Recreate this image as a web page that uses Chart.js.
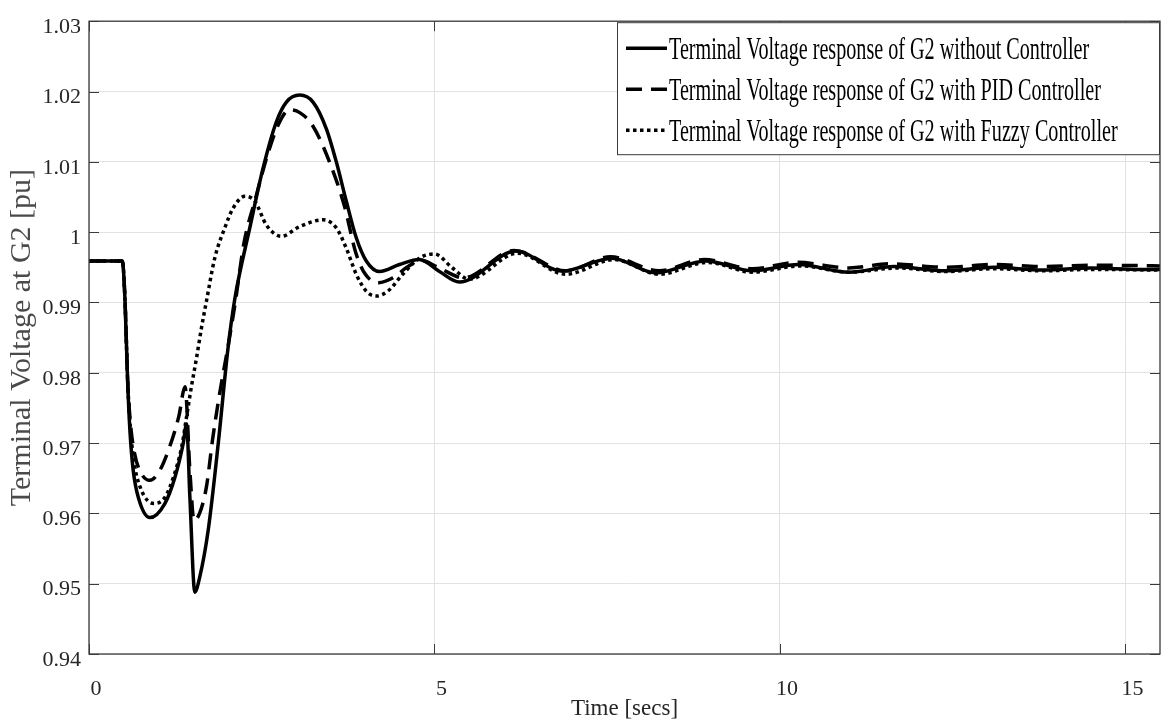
<!DOCTYPE html>
<html>
<head>
<meta charset="utf-8">
<title>Terminal Voltage at G2</title>
<script src="https://cdn.jsdelivr.net/npm/chart.js@4.4.1/dist/chart.umd.min.js"></script>
<style>
  html, body { margin: 0; padding: 0; background: #fff; }
  #wrap { width: 1162px; height: 725px; }
</style>
</head>
<body>
<div id="wrap"><canvas id="chart" width="1162" height="725"></canvas></div>
<script>
// ── Données ──────────────────────────────────────────────────────
const LABELS = [
  "Terminal Voltage response of G2 without Controller",
  "Terminal Voltage response of G2 with PID Controller",
  "Terminal Voltage response of G2 with Fuzzy Controller",
];

// sans régulateur
const SOLID_T = [0, 0.482, 0.52, 0.559, 0.592, 0.64, 0.713, 0.881, 1.098, 1.243, 1.363, 1.412,
  1.46, 1.532, 1.604, 1.725, 1.87, 2.013, 2.11, 2.327, 2.519, 2.712, 2.857, 3.049, 3.242,
  3.435, 3.579, 3.724, 3.868, 4.013, 4.205, 4.494, 4.783, 5.072, 5.36, 6.18, 6.85, 7.57,
  8.2, 8.93, 9.6, 10.27, 11.0, 11.65, 12.4, 13.1, 13.8, 14.5, 15.2, 15.5];
const SOLID_V = [0.9959, 0.9959, 0.9906, 0.9788, 0.9718, 0.9661, 0.9623, 0.9594, 0.9614, 0.9651, 0.9699, 0.9727,
  0.9623, 0.9488, 0.9510, 0.9576, 0.9699, 0.9836, 0.9905, 1.0006, 1.0091, 1.0157, 1.0185, 1.0195, 1.0185,
  1.0147, 1.0100, 1.0044, 0.9992, 0.9959, 0.9944, 0.9954, 0.9961, 0.9944, 0.9929, 0.9973, 0.99445, 0.9963,
  0.9942, 0.9959, 0.9945, 0.9954, 0.9943, 0.9951, 0.9945, 0.9950, 0.9946, 0.9949, 0.9947, 0.9947];

// PID
const PID_T = [0, 0.482, 0.52, 0.559, 0.6, 0.66, 0.75, 0.88, 1.0, 1.15, 1.3, 1.39, 1.46, 1.52,
  1.6, 1.7, 1.79, 1.89, 2.02, 2.12, 2.24, 2.41, 2.6, 2.75, 2.9, 3.05, 3.24, 3.5, 3.7, 3.86,
  4.0, 4.19, 4.4, 4.6, 4.8, 5.05, 5.42, 6.15, 6.9, 7.55, 8.25, 8.9, 9.6, 10.25, 11.0, 11.6,
  12.4, 13.1, 13.8, 14.5, 15.5];
const PID_V = [0.9959, 0.9959, 0.9906, 0.9790, 0.9728, 0.9685, 0.9658, 0.9647, 0.9657, 0.9690, 0.9738, 0.9780, 0.9661, 0.9590,
  0.9600, 0.9638, 0.9706, 0.9770, 0.9842, 0.9902, 0.9983, 1.0048, 1.0115, 1.0155, 1.0174, 1.0170, 1.0151, 1.0095, 1.0036, 0.9971,
  0.9940, 0.9928, 0.9935, 0.9950, 0.9960, 0.9950, 0.9935, 0.9974, 0.9945, 0.9965, 0.9945, 0.9961, 0.9948, 0.9957, 0.9949, 0.9955,
  0.9950, 0.9954, 0.9951, 0.9953, 0.9952];

// Flou
const FUZZY_T = [0, 0.482, 0.52, 0.559, 0.6, 0.66, 0.75, 0.85, 0.94, 1.1, 1.22, 1.34, 1.41, 1.48,
  1.556, 1.628, 1.7, 1.82, 1.965, 2.085, 2.254, 2.4, 2.568, 2.784, 3.05, 3.386, 3.58, 3.724,
  3.868, 4.013, 4.157, 4.325, 4.54, 4.78, 5.0, 5.26, 5.5, 6.2, 6.9, 7.6, 8.25, 8.95, 9.6,
  10.3, 11.0, 11.7, 12.4, 13.1, 13.8, 14.5, 15.5];
const FUZZY_V = [0.9959, 0.9959, 0.9906, 0.9790, 0.9720, 0.9668, 0.9635, 0.9618, 0.9614, 0.9623, 0.9651, 0.9694, 0.9736, 0.9779,
  0.9821, 0.9864, 0.9902, 0.9963, 1.0006, 1.0034, 1.0051, 1.0044, 1.0010, 0.9994, 1.0008, 1.00175, 1.0006, 0.9977,
  0.9940, 0.9916, 0.9909, 0.9916, 0.9940, 0.9963, 0.9969, 0.9949, 0.9933, 0.9970, 0.9940, 0.9961, 0.9940, 0.9957, 0.9943,
  0.9952, 0.9943, 0.9949, 0.9944, 0.9948, 0.9945, 0.9947, 0.9946];

const X_TICKS = [0, 5, 10, 15];
const Y_TICKS = [0.94, 0.95, 0.96, 0.97, 0.98, 0.99, 1.00, 1.01, 1.02, 1.03];
const X_MAX = 15.5;

// ── Style ────────────────────────────────────────────────────────
const FONT = "'Liberation Serif', 'Times New Roman', serif";
const AXIS_COLOR = "#3a3a3a";
const GRID_COLOR = "#e2e2e2";
const TICK_LEN = 10;

function pts(ts, vs) {
  return ts.map((t, i) => ({ x: t, y: vs[i] }));
}

// cadre + graduations intérieures (façon MATLAB)
const frameAndTicks = {
  id: "frameAndTicks",
  afterDatasetsDraw(chart) {
    const { ctx, chartArea: a, scales: { x, y } } = chart;
    ctx.save();
    ctx.strokeStyle = AXIS_COLOR;
    ctx.lineWidth = 1;
    ctx.beginPath();
    Y_TICKS.forEach(v => {
      const py = Math.round(y.getPixelForValue(v)) + 0.5;
      ctx.moveTo(a.left, py); ctx.lineTo(a.left + TICK_LEN, py);
      ctx.moveTo(a.right, py); ctx.lineTo(a.right - TICK_LEN, py);
    });
    X_TICKS.forEach(v => {
      const px = Math.round(x.getPixelForValue(v)) + 0.5;
      ctx.moveTo(px, a.bottom); ctx.lineTo(px, a.bottom - TICK_LEN);
      ctx.moveTo(px, a.top); ctx.lineTo(px, a.top + TICK_LEN);
    });
    ctx.stroke();
    ctx.lineWidth = 1.3;
    ctx.strokeRect(a.left, a.top, a.right - a.left, a.bottom - a.top);
    ctx.restore();
  }
};

// légende encadrée en haut à droite, texte condensé
const boxLegend = {
  id: "boxLegend",
  afterDraw(chart) {
    const { ctx, chartArea: a } = chart;
    const w = 543, h = 133;
    const left = a.right - w, top = a.top + 1;
    ctx.save();
    ctx.fillStyle = "#fff";
    ctx.fillRect(left, top, w, h);
    ctx.strokeStyle = AXIS_COLOR;
    ctx.lineWidth = 1;
    ctx.strokeRect(left + 0.5, top + 0.5, w - 1, h - 1);
    chart.data.datasets.forEach((ds, i) => {
      const cy = top + 26 + i * 41;
      ctx.beginPath();
      ctx.setLineDash(ds.borderDash || []);
      ctx.lineWidth = ds.borderWidth;
      ctx.strokeStyle = ds.borderColor;
      ctx.moveTo(left + 9, cy);
      ctx.lineTo(left + 50, cy);
      ctx.stroke();
      ctx.setLineDash([]);
      ctx.save();
      ctx.translate(left + 52, cy + 11);
      ctx.scale(0.65, 1);
      ctx.font = "31px " + FONT;
      ctx.fillStyle = "#000";
      ctx.textBaseline = "alphabetic";
      ctx.fillText(ds.label, 0, 0);
      ctx.restore();
    });
    ctx.restore();
  }
};

new Chart(document.getElementById("chart"), {
  type: "line",
  data: {
    datasets: [
      { label: LABELS[0], data: pts(SOLID_T, SOLID_V), borderColor: "#000", borderWidth: 3.5, borderDash: [] },
      { label: LABELS[1], data: pts(PID_T, PID_V), borderColor: "#000", borderWidth: 3.5, borderDash: [16, 9] },
      { label: LABELS[2], data: pts(FUZZY_T, FUZZY_V), borderColor: "#000", borderWidth: 3.5, borderDash: [3.5, 3.5] },
    ],
  },
  options: {
    responsive: false,
    animation: false,
    events: [],
    layout: { padding: { top: 19, right: 2, left: 0, bottom: 0 } },
    plugins: { legend: { display: false }, tooltip: { enabled: false } },
    elements: {
      point: { radius: 0 },
      line: { cubicInterpolationMode: "monotone", borderCapStyle: "butt", fill: false },
    },
    scales: {
      x: {
        type: "linear",
        min: 0,
        max: X_MAX,
        afterBuildTicks: s => { s.ticks = X_TICKS.map(v => ({ value: v })); },
        afterFit: s => { s.height = 71; },
        grid: { color: GRID_COLOR, drawTicks: false },
        border: { display: false },
        ticks: {
          color: "#262626",
          font: { family: FONT, size: 22 },
          padding: 22,
          labelOffset: 7,
          maxRotation: 0,
        },
        title: {
          display: true,
          text: "Time [secs]",
          color: "#262626",
          font: { family: FONT, size: 23 },
          padding: { top: 0, bottom: 2 },
        },
      },
      y: {
        min: 0.94,
        max: 1.03,
        afterBuildTicks: s => { s.ticks = Y_TICKS.map(v => ({ value: v })); },
        afterFit: s => { s.width = 89; },
        grid: { color: GRID_COLOR, drawTicks: false },
        border: { display: false },
        ticks: {
          color: "#262626",
          font: { family: FONT, size: 22 },
          padding: 8,
          labelOffset: 6,
          callback: v => Number(v.toFixed(2)).toString(),
        },
        title: {
          display: true,
          text: "Terminal Voltage at G2 [pu]",
          color: "#4a4a4a",
          font: { family: FONT, size: 30 },
          padding: { top: 4, bottom: 0 },
        },
      },
    },
  },
  plugins: [frameAndTicks, boxLegend],
});
</script>
</body>
</html>
